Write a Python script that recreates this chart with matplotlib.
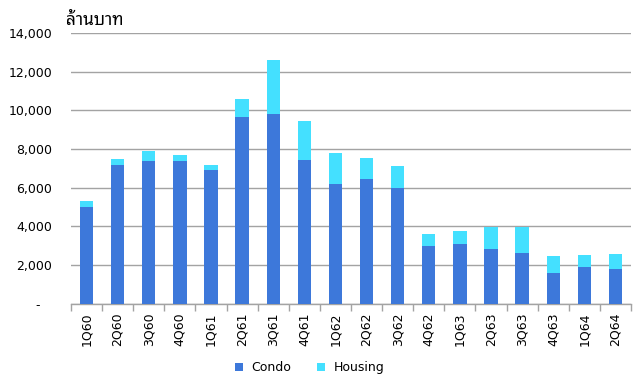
import matplotlib
matplotlib.use("Agg")
import matplotlib.pyplot as plt
from matplotlib.ticker import FuncFormatter, MultipleLocator
import numpy as np

quarters = ["1Q60", "2Q60", "3Q60", "4Q60", "1Q61", "2Q61", "3Q61", "4Q61", "1Q62",
            "2Q62", "3Q62", "4Q62", "1Q63", "2Q63", "3Q63", "4Q63", "1Q64", "2Q64"]
condo = [5000, 7200, 7400, 7400, 6900, 9650, 9800, 7450, 6200,
         6450, 6000, 3000, 3100, 2850, 2650, 1600, 1900, 1800]
housing = [300, 300, 500, 300, 300, 950, 2800, 2000, 1600,
           1100, 1100, 600, 650, 1100, 1300, 850, 650, 800]

condo_color = "#3D78DA"
housing_color = "#44E0FF"
grid_color = "#A3A3A3"

plt.rcParams["font.family"] = ["DejaVu Sans"]

fig = plt.figure(figsize=(6.33, 3.78), dpi=100)
ax = fig.add_axes([0.112, 0.196, 0.885, 0.717])

x = np.arange(len(quarters))
ax.bar(x, condo, width=0.43, color=condo_color, label="Condo", zorder=3)
ax.bar(x, housing, width=0.43, bottom=condo, color=housing_color, label="Housing", zorder=3)

ax.set_xlim(-0.5, len(quarters) - 0.5)
ax.set_ylim(0, 14000)
ax.yaxis.set_major_locator(MultipleLocator(2000))
# accounting-style zero: a dash padded on the right
ax.yaxis.set_major_formatter(
    FuncFormatter(lambda v, p: "-\u00a0\u00a0\u00a0" if v == 0 else f"{int(v):,}"))
ax.yaxis.grid(True, color=grid_color, linewidth=1.0, zorder=0)
ax.set_axisbelow(True)

ax.set_xticks(x)
ax.set_xticklabels(quarters, rotation=90, va="top", ha="center")
ax.set_xticks(np.arange(len(quarters) + 1) - 0.5, minor=True)
ax.tick_params(axis="x", which="major", length=0, pad=6, labelsize=9, colors="#000000")
ax.tick_params(axis="x", which="minor", length=5, color=grid_color, width=1)
ax.tick_params(axis="y", length=0, pad=13.5, labelsize=9)

for s in ["left", "right", "top"]:
    ax.spines[s].set_visible(False)
ax.spines["bottom"].set_color(grid_color)
ax.spines["bottom"].set_linewidth(1.0)

fig.text(0.105, 0.933, "ล้านบาท", family=["Noto Sans Thai Looped", "DejaVu Sans"],
         fontsize=12.5, va="baseline", ha="left")

leg = fig.legend(loc="center", bbox_to_anchor=(0.489, 0.027), ncol=2, frameon=False,
                 fontsize=9, handlelength=0.65, handleheight=0.65, handletextpad=0.65,
                 columnspacing=2.1)

fig.savefig("out.png", dpi=100)
